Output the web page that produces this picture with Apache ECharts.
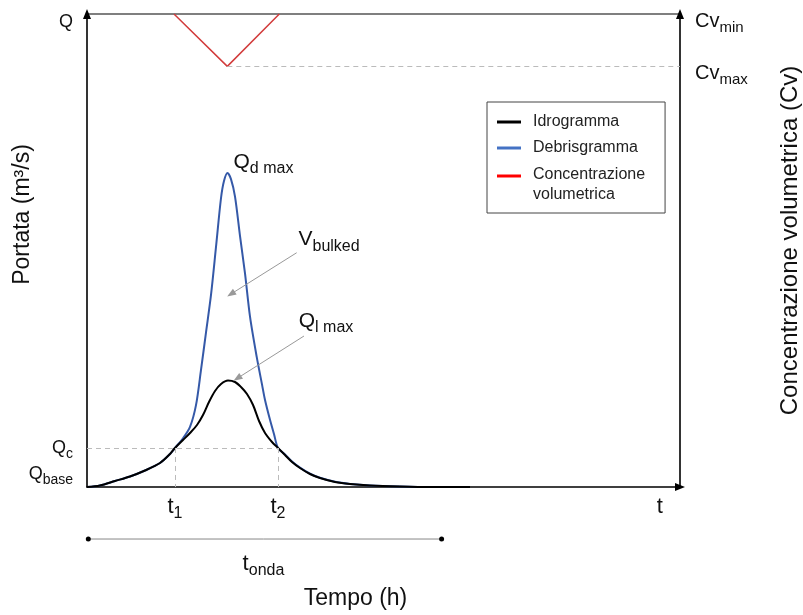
<!DOCTYPE html>
<html><head><meta charset="utf-8">
<script src="https://cdn.jsdelivr.net/npm/echarts@6/dist/echarts.min.js"></script>
<style>html,body{margin:0;padding:0;background:#fff}#c{width:803px;height:615px}</style>
</head><body><div id="c"></div>
<script>
const FONT = '"Liberation Sans", Arial, sans-serif';
const TXT = '#111';

// Idrogramma (black)
const hydroT = [0, 2.19, 4.72, 7.25, 9.78, 12.31, 14.00, 14.84, 16.19, 17.37, 18.55, 19.56, 20.57, 21.59, 22.60, 23.78, 24.96, 25.97, 26.98, 28.00, 29.01, 30.02, 31.20, 32.21, 33.39, 34.57, 35.92, 37.61, 39.29, 41.82, 44.35, 47.72, 52.78, 57.84, 64.59];
const hydroQ = [0, 0.32, 1.27, 2.22, 3.49, 5.07, 6.98, 8.25, 9.94, 11.42, 13.11, 15.22, 17.97, 20.30, 21.78, 22.52, 22.20, 21.14, 19.66, 17.34, 13.95, 11.42, 9.51, 8.25, 6.77, 5.29, 4.02, 2.75, 1.90, 1.06, 0.63, 0.32, 0.11, 0, 0];
// Debrisgramma (blue)
const debrisT = [0, 2.19, 4.72, 7.25, 9.78, 12.31, 14.00, 14.84, 16.19, 17.37, 18.38, 19.22, 20.07, 20.91, 21.75, 22.60, 23.10, 23.69, 24.28, 24.96, 25.80, 26.64, 27.49, 28.62, 29.51, 30.02, 30.86, 31.53, 32.21, 33.39, 34.57, 35.92, 37.61, 39.29, 41.82, 44.35, 47.72, 52.78, 57.84, 64.59];
const debrisQ = [0, 0.32, 1.27, 2.22, 3.49, 5.07, 6.98, 8.25, 10.3, 12.7, 17.3, 24.7, 32.7, 40.6, 50.7, 61.1, 64.7, 66.4, 65.1, 61.4, 53.1, 45.2, 36.0, 27.5, 21.7, 18.4, 14.2, 11.2, 8.25, 6.9, 5.4, 4.1, 2.8, 1.95, 1.1, 0.65, 0.33, 0.11, 0, 0];
// Concentrazione volumetrica (red, right inverted axis)
const cvT = [14.67, 23.66, 32.43];
const cvV = [0, 11.07, 0];

const Qc = 8.25, t1 = 14.84, t2 = 32.21, cvMax = 11.07;
const tondaStart = 0.22, tondaEnd = 59.8, tondaLevel = -11.0, tondaLabelT = 29.76;

// axis tick labels
const xLabelValues = [14.84, 32.21, 96.6];
const xLabelTexts = [['t', '1'], ['t', '2'], ['t', '']];
const yLabelValues = [2.75, 8.25, 98.3];
const yLabelTexts = [['Q', 'base'], ['Q', 'c'], ['Q', '']];
const cvLabelValues = [0, 11.07];
const cvLabelTexts = [['Cv', 'min'], ['Cv', 'max']];

// annotations
const notePos = [[24.62, 68.7], [35.58, 52.4], [35.63, 35.1]];
const noteTexts = [['Q', 'd max'], ['V', 'bulked'], ['Q', 'l max']];
const arrowFrom = [[35.36, 49.53], [36.59, 31.92]];
const arrowTo = [[24.28, 40.80], [25.35, 22.98]];

function subRich(main, sub, H, P) {
  return {
    m: { fontSize: main, lineHeight: H, verticalAlign: 'middle', fontFamily: FONT, color: TXT },
    s: { fontSize: sub, lineHeight: H, verticalAlign: 'top', padding: [P, 0, 0, 0], fontFamily: FONT, color: TXT }
  };
}
function subText(pair) { return pair[1] ? '{m|' + pair[0] + '}{s|' + pair[1] + '}' : '{m|' + pair[0] + '}'; }
function pick(vals, texts, v) {
  let best = 0, d = Infinity;
  vals.forEach((x, i) => { if (Math.abs(x - v) < d) { d = Math.abs(x - v); best = i; } });
  return subText(texts[best]);
}
const zip = (a, b) => a.map((x, i) => [x, b[i]]);

const chart = echarts.init(document.getElementById('c'));
chart.setOption({
  animation: false,
  backgroundColor: '#fff',
  grid: { left: 87, right: 123, top: 14, bottom: 128, containLabel: false, outerBoundsMode: 'none' },
  legend: {
    orient: 'vertical', left: 487, top: 102, padding: [2, 20, 10, 10],
    itemWidth: 24, itemHeight: 3, itemGap: 0, icon: 'rect',
    borderColor: '#444', borderWidth: 1, borderRadius: 0,
    textStyle: {
      fontFamily: FONT, fontSize: 16, color: '#222', lineHeight: 16, padding: [0, 0, 0, 7],
      rich: {
        a: { fontFamily: FONT, fontSize: 16, color: '#222', lineHeight: 38 },
        b: { fontFamily: FONT, fontSize: 16, color: '#222', lineHeight: 2 }
      }
    },
    formatter: n => n === 'Concentrazione volumetrica' ? '{a|Concentrazione}\n{b|volumetrica}' : n,
    data: [
      { name: 'Idrogramma', textStyle: { lineHeight: 36 }, itemStyle: { color: '#000' } },
      { name: 'Debrisgramma', itemStyle: { color: '#4472c4' } },
      { name: 'Concentrazione volumetrica', itemStyle: { color: '#ff0000' } }
    ]
  },
  xAxis: [{
    type: 'value', min: 0, max: 100, position: 'bottom',
    axisLine: { show: true, onZero: false, symbol: ['none', 'triangle'], symbolSize: [8, 10], lineStyle: { color: '#000', width: 1.6 } },
    axisTick: { show: false }, splitLine: { show: false },
    axisLabel: {
      customValues: xLabelValues, margin: 7,
      formatter: v => pick(xLabelValues, xLabelTexts, v),
      rich: subRich(22, 16, 26, 12)
    },
    name: 'Tempo (h)', nameLocation: 'middle', nameGap: 100, nameMoveOverlap: false,
    nameTextStyle: { fontFamily: FONT, fontSize: 23, color: TXT, padding: [0, 56, 0, 0] }
  }, {
    type: 'value', min: 0, max: 100, position: 'top',
    axisLine: { show: true, onZero: false, lineStyle: { color: '#555', width: 1.6 } },
    axisTick: { show: false }, splitLine: { show: false }, axisLabel: { show: false }
  }],
  yAxis: [{
    type: 'value', min: 0, max: 100, position: 'left',
    axisLine: { show: true, onZero: false, symbol: ['none', 'triangle'], symbolSize: [8, 10], lineStyle: { color: '#000', width: 1.6 } },
    axisTick: { show: false }, splitLine: { show: false },
    axisLabel: {
      customValues: yLabelValues, margin: 14,
      formatter: v => pick(yLabelValues, yLabelTexts, v),
      rich: subRich(18, 14, 22, 10)
    },
    name: 'Portata (m³/s)', nameLocation: 'middle', nameGap: 53, nameRotate: 90, nameMoveOverlap: false,
    nameTextStyle: { fontFamily: FONT, fontSize: 23, color: TXT, padding: [0, 0, 0, 72] }
  }, {
    type: 'value', min: 0, max: 100, position: 'right', inverse: true,
    axisLine: { show: true, onZero: false, symbol: ['none', 'triangle'], symbolSize: [8, 10], lineStyle: { color: '#000', width: 1.6 } },
    axisTick: { show: false }, splitLine: { show: false },
    axisLabel: {
      customValues: cvLabelValues, margin: 15, padding: [14, 0, 0, 0],
      formatter: v => pick(cvLabelValues, cvLabelTexts, v),
      rich: subRich(20, 15, 24, 11)
    },
    name: 'Concentrazione volumetrica (Cv)', nameLocation: 'middle', nameGap: 98, nameRotate: 90, nameMoveOverlap: false,
    nameTextStyle: { fontFamily: FONT, fontSize: 24, color: TXT, padding: [0, 0, 0, 20] }
  }],
  series: [{
    name: 'Debrisgramma', type: 'line', xAxisIndex: 0, yAxisIndex: 0,
    data: zip(debrisT, debrisQ), smooth: 0.3, symbol: 'none',
    lineStyle: { color: '#3559a8', width: 2 }, itemStyle: { color: '#3559a8' },
    markLine: {
      silent: true, symbol: ['none', 'none'], label: { show: false },
      lineStyle: { color: '#bbb', type: [5, 4], width: 1 },
      data: [
        [{ coord: [0, Qc] }, { coord: [t2, Qc] }],
        [{ coord: [t1, Qc] }, { coord: [t1, 0] }],
        [{ coord: [t2, Qc] }, { coord: [t2, 0] }]
      ]
    },
    markPoint: {
      silent: true, symbol: 'circle', symbolSize: 1, itemStyle: { color: 'rgba(0,0,0,0)' },
      label: { show: true, position: 'right', distance: 0, rich: subRich(21, 16, 25, 11.5) },
      data: notePos.map((p, i) => ({ coord: p, label: { formatter: subText(noteTexts[i]) } }))
    }
  }, {
    name: 'Concentrazione volumetrica', type: 'line', xAxisIndex: 0, yAxisIndex: 1,
    data: zip(cvT, cvV), symbol: 'none',
    lineStyle: { color: '#d23c3c', width: 1.5 }, itemStyle: { color: '#d23c3c' },
    markLine: {
      silent: true, symbol: ['none', 'none'], label: { show: false },
      lineStyle: { color: '#bbb', type: [5, 4], width: 1 },
      data: [[{ coord: [cvT[1], cvMax] }, { coord: [100, cvMax] }]]
    }
  }, {
    name: 'Idrogramma', type: 'line', xAxisIndex: 0, yAxisIndex: 0,
    data: zip(hydroT, hydroQ), smooth: 0.3, symbol: 'none',
    lineStyle: { color: '#000', width: 2 }, itemStyle: { color: '#000' },
    markLine: {
      silent: true, symbol: ['none', 'triangle'], symbolSize: [7, 9], label: { show: false },
      lineStyle: { color: '#999', type: 'solid', width: 1 }, itemStyle: { color: '#999' },
      data: arrowFrom.map((f, i) => [{ coord: f }, { coord: arrowTo[i] }])
    }
  }, {
    name: 'tonda', type: 'line', xAxisIndex: 0, yAxisIndex: 0, clip: false,
    symbol: 'circle', symbolSize: 5, showSymbol: true,
    lineStyle: { color: '#888', width: 1 }, itemStyle: { color: '#000' },
    data: [
      [tondaStart, tondaLevel],
      { value: [tondaLabelT, tondaLevel], symbolSize: 1, itemStyle: { color: 'rgba(0,0,0,0)' },
        label: { show: true, position: 'bottom', distance: 11, formatter: '{m|t}{s|onda}', rich: subRich(22, 16, 26, 12) } },
      [tondaEnd, tondaLevel]
    ]
  }]
});
</script></body></html>
